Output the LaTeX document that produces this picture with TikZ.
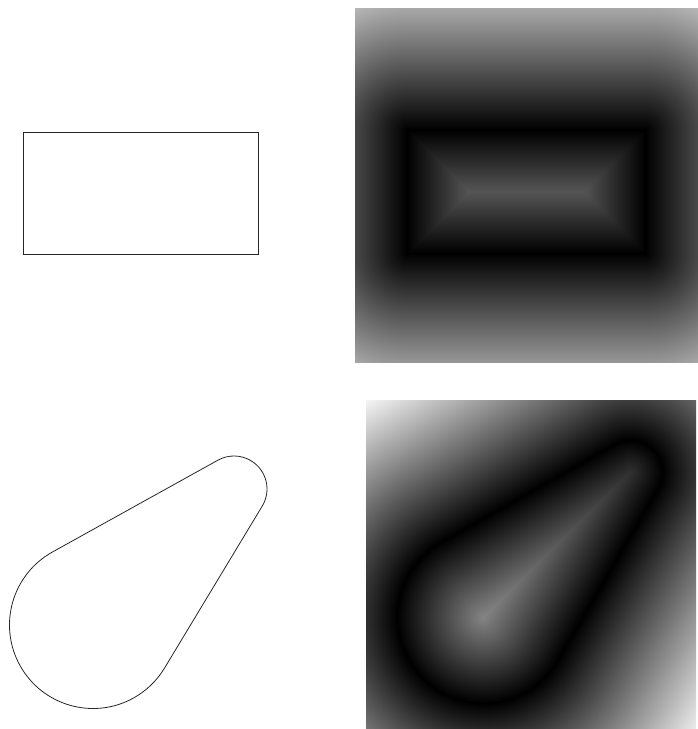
\documentclass[tikz,border=0pt]{standalone}
\usetikzlibrary{calc}
\pgfdeclarefunctionalshading{rectfield}{\pgfpointorigin}{\pgfpoint{344bp}{355bp}}{}{
171.5 sub abs 61.5 sub
exch 172 sub abs 119 sub
2 copy
2 copy lt {exch} if pop
dup 0 le {
neg 3 1 roll pop pop
}{
pop
dup 0 lt {pop 0} if dup mul
exch dup 0 lt {pop 0} if dup mul
add sqrt
} ifelse
0.0054 mul dup 1 gt {pop 1} if dup dup
}
\pgfdeclarefunctionalshading{dropfield}{\pgfpointorigin}{\pgfpoint{331bp}{329bp}}{}{
112 sub exch 118 sub
2 copy
0.71193 mul exch 0.70224 mul add
3 1 roll
0.70224 mul exch 0.71193 mul sub abs
2 copy
-0.26152 mul exch 0.96519 mul add
dup 0 lt {
pop dup mul exch dup mul add sqrt 86 sub
}{
199.29 gt {
dup mul exch 206.48 sub dup mul add sqrt 32 sub
}{
0.96519 mul exch 0.26152 mul add 86 sub
} ifelse
} ifelse
abs 0.006 mul dup 1 gt {pop 1} if dup dup
}
\tikzset{
  outline/.style={draw=black!85, line width=0.8bp},
  field/.style={inner sep=0pt, outer sep=0pt, anchor=south west}
}
\begin{document}
\begin{tikzpicture}[x=1bp, y=1bp]
\useasboundingbox (0,0) rectangle (698,729);
% top-left: rectangle
\draw[outline] (23.3,475) rectangle (258.7,596.7);
% top-right: distance field of the rectangle
\node[field] (rf) at (354,366) {\pgfuseshading{rectfield}};
% bottom-left: teardrop outline
\coordinate (c1) at (93,104);
\coordinate (c2) at (234,240);
\draw[outline] ($(c1)+(119:83.5)$) arc[start angle=119, end angle=328.9, radius=83.5bp]
  -- ($(c2)+(-31.1:33)$) arc[start angle=-31.1, end angle=119, radius=33bp] -- cycle;
% bottom-right: distance field of the teardrop
\node[field] (df) at (365,0) {\pgfuseshading{dropfield}};
\end{tikzpicture}
\end{document}
